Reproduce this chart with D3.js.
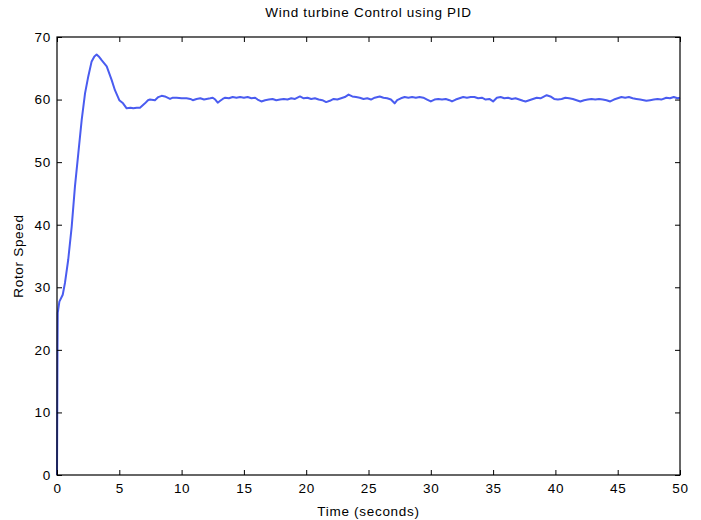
<!DOCTYPE html>
<html><head><meta charset="utf-8">
<script src="https://cdn.jsdelivr.net/npm/d3@7"></script>
<style>body{margin:0;background:#fff}svg{display:block}text{font-family:"Liberation Sans",Arial,sans-serif}</style>
</head><body>
<svg id="c" width="701" height="520"></svg>
<script>
const title = "Wind turbine Control using PID";
const xLabel = "Time (seconds)";
const yLabel = "Rotor Speed";
const xTicks = [0,5,10,15,20,25,30,35,40,45,50];
const yTicks = [0,10,20,30,40,50,60,70];
const timeS = [0,0.02,0.04,0.06,0.19,0.46,0.64,0.9,1.18,1.44,1.71,1.98,2.25,2.51,2.78,3.0,3.18,3.35,3.58,3.99,4.39,4.65,5.0,5.3,5.59,5.9,6.12,6.4,6.66,7.06,7.3,7.46,7.86,8.13,8.4,8.66,9.07,9.3,9.6,10.0,
10.4,10.7,10.9,11.2,11.5,11.8,12.0,12.3,12.5,12.7,12.9,13.1,13.3,13.5,13.8,14.1,14.4,14.7,15.0,15.3,15.6,15.9,16.1,16.4,16.7,17.0,17.3,17.6,17.9,18.2,18.5,18.8,19.1,19.3,19.5,19.8,20.1,20.4,20.7,21.0,21.3,21.6,21.9,22.2,22.5,22.8,23.1,23.4,23.7,24.0,24.3,24.6,24.9,25.2,25.5,25.9,26.2,26.5,26.8,27.1,27.3,27.6,27.9,28.2,28.5,28.8,29.1,29.4,29.7,30.0,30.3,30.6,30.9,31.2,31.5,31.7,32.0,32.3,32.6,32.9,33.2,33.5,33.8,34.1,34.4,34.7,35.0,35.3,35.6,35.9,36.2,36.5,36.8,37.1,37.4,37.6,37.9,38.2,38.5,38.8,39.0,39.3,39.6,39.9,40.2,40.5,40.8,41.1,41.4,41.7,42.0,42.3,42.6,42.9,43.2,43.5,43.8,44.1,44.4,44.7,45.0,45.3,45.6,45.9,46.2,46.5,46.8,47.1,47.3,47.6,47.9,48.2,48.5,48.9,49.2,49.5,49.8,50.0];
const rotorSpeed = [0,10,20,25.9,27.7,28.8,30.7,34.4,39.7,46.1,51.4,56.7,61.0,63.7,66.1,66.9,67.2,66.9,66.3,65.3,63.1,61.5,59.9,59.4,58.6,58.7,58.6,58.7,58.7,59.4,59.9,60.0,59.9,60.4,60.6,60.5,60.1,60.3,60.3,60.2,
60.2,60.1,59.9,60.1,60.2,60.0,60.1,60.2,60.3,60.0,59.5,59.8,60.1,60.3,60.2,60.4,60.3,60.4,60.3,60.4,60.2,60.3,60.0,59.7,59.9,60.0,60.1,59.9,60.0,60.1,60.0,60.2,60.1,60.3,60.5,60.2,60.3,60.1,60.2,60.0,59.9,59.6,59.8,60.1,60.0,60.2,60.4,60.8,60.5,60.4,60.3,60.1,60.2,60.0,60.3,60.5,60.3,60.2,60.0,59.4,59.9,60.2,60.4,60.3,60.4,60.3,60.4,60.3,60.0,59.7,60.0,60.1,60.0,60.1,59.9,59.7,60.0,60.2,60.4,60.3,60.4,60.4,60.2,60.3,60.0,60.1,59.7,60.3,60.4,60.2,60.3,60.1,60.2,60.0,59.8,59.7,59.9,60.1,60.3,60.2,60.4,60.7,60.5,60.1,60.0,60.1,60.3,60.2,60.1,59.9,59.7,59.9,60.0,60.1,60.0,60.1,60.0,59.9,59.7,60.0,60.2,60.4,60.3,60.4,60.2,60.1,60.0,59.9,59.8,59.9,60.0,60.1,60.0,60.3,60.2,60.4,60.2,60.3];

const L=57, R=680, T=37, B=475;
const FS = "13.5px", LS = "0.7px";
const svg = d3.select("#c");
const x = d3.scaleLinear().domain([0,50]).range([L,R]);
const y = d3.scaleLinear().domain([0,70]).range([B,T]);

const data = timeS.map((t,i)=>[t, rotorSpeed[i]]);

svg.append("path").datum(data)
  .attr("fill","none").attr("stroke","#4a5cf0").attr("stroke-width",2)
  .attr("stroke-linejoin","round")
  .attr("d", d3.line().x(d=>x(d[0])).y(d=>y(d[1])));

const tickLen = 5;
function style(g){ g.select(".domain").remove(); g.selectAll("line").attr("stroke","#000"); g.selectAll("text").attr("font-size",FS).attr("letter-spacing",LS).attr("fill","#000").attr("font-family","Liberation Sans, Arial, sans-serif"); }
svg.append("g").attr("transform",`translate(0,${B})`)
  .call(d3.axisBottom(x).tickValues(xTicks).tickFormat(d3.format("d")).tickSizeInner(-tickLen).tickSizeOuter(0).tickPadding(8))
  .call(style);
svg.append("g").attr("transform",`translate(0,${T})`)
  .call(d3.axisTop(x).tickValues(xTicks).tickFormat("").tickSizeInner(-tickLen).tickSizeOuter(0))
  .call(style);
svg.append("g").attr("transform",`translate(${L},0)`)
  .call(d3.axisLeft(y).tickValues(yTicks).tickFormat(d3.format("d")).tickSizeInner(-tickLen).tickSizeOuter(0).tickPadding(6))
  .call(style);
svg.append("g").attr("transform",`translate(${R},0)`)
  .call(d3.axisRight(y).tickValues(yTicks).tickFormat("").tickSizeInner(-tickLen).tickSizeOuter(0))
  .call(style);

svg.append("rect").attr("x",L).attr("y",T).attr("width",R-L).attr("height",B-T)
  .attr("fill","none").attr("stroke","#000").attr("stroke-width",1.2);

svg.append("text").attr("x",(L+R)/2).attr("y",17).attr("text-anchor","middle").attr("font-size",FS).attr("letter-spacing",LS).text(title);
svg.append("text").attr("x",(L+R)/2).attr("y",516).attr("text-anchor","middle").attr("font-size",FS).attr("letter-spacing",LS).text(xLabel);
svg.append("text").attr("transform",`translate(23,${(T+B)/2}) rotate(-90)`).attr("text-anchor","middle").attr("font-size",FS).attr("letter-spacing",LS).text(yLabel);
</script>
</body></html>
